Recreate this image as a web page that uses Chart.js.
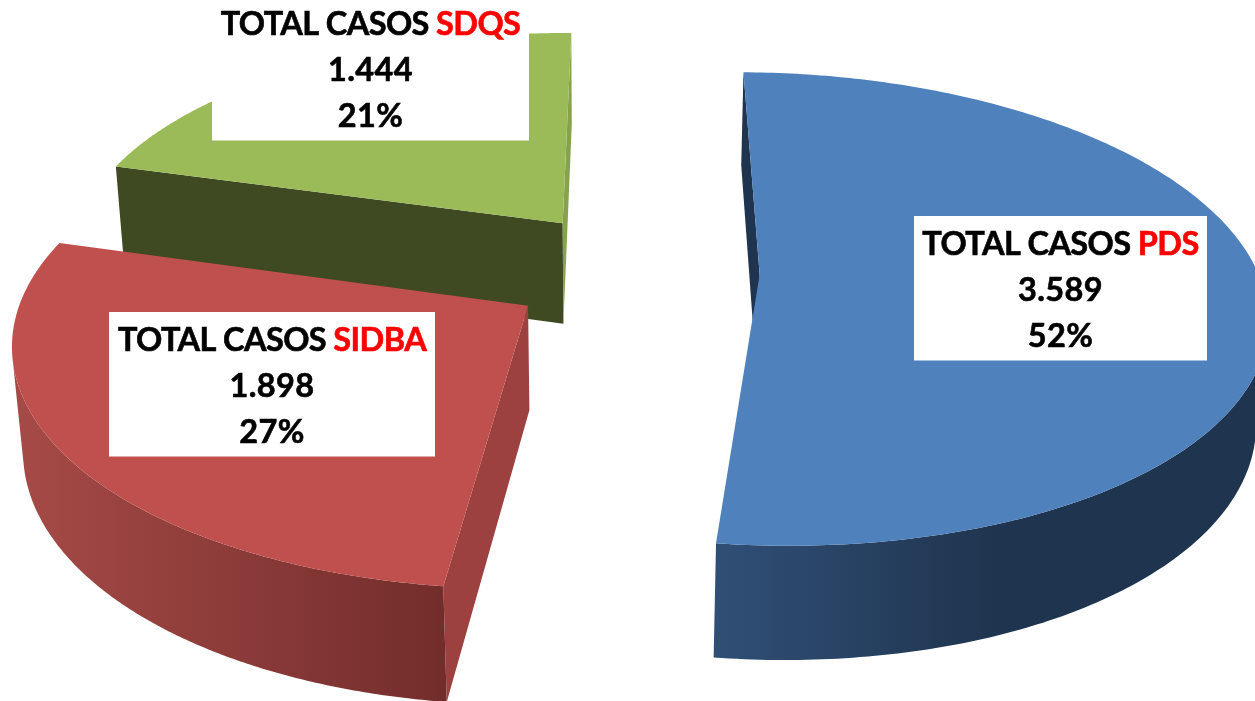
<!DOCTYPE html>
<html>
<head>
<meta charset="utf-8">
<title>Total casos</title>
<style>
  html, body { margin: 0; background: #fff; overflow: hidden; }
  canvas { display: block; }
</style>
<script src="https://cdn.jsdelivr.net/npm/chart.js@4"></script>
</head>
<body>
<canvas id="chart" width="1255" height="701"></canvas>
<script>
// data
const categories = ['PDS', 'SIDBA', 'SDQS'];
const values = [3589, 1898, 1444];

// style
const topColors = ['#4f81bd', '#c0504d', '#9bbb59'];
const startWallColors = ['#1f344e', '#9c413f', '#3f4a23'];
const endWallColors = ['#1f344e', '#9c413f', '#86a24d'];
const rimGradients = [
  [[714, '#304f76'], [1000, '#1f344e']],
  [[15, '#a64a47'], [447, '#722d2b']],
  [[100, '#86a24d'], [570, '#86a24d']]
];
const explode = [0.238249, 0.26888, 0.265146];
const pieRadius = 200;
const pieRotation = 11.4876;

// label boxes: left, top, right, bottom
const labelBoxes = [
  [914, 216, 1207, 360.5],
  [109, 312, 435, 456.5],
  [212, -4, 529, 140.5]
];
const labelFont = 'bold 32.5px Lato';

// 3x4 camera fitted to the picture: pie plane (X, Y, radius 1) plus depth Z -> pixels
const camera = [
  505.154, 8.842, 11.058, 640.92,
  -35.69, 187.913, 109.474, 270.713,
  0.027195, -0.142864, 0.018349, 1
];

function project(X, Y, Z) {
  const c = camera;
  const w = c[8] * X + c[9] * Y + c[10] * Z + c[11];
  return [(c[0] * X + c[1] * Y + c[2] * Z + c[3]) / w, (c[4] * X + c[5] * Y + c[6] * Z + c[7]) / w];
}

function polyArea(pts) {
  let s = 0;
  pts.forEach((p, i) => {
    const n = pts[(i + 1) % pts.length];
    s += p[0] * n[1] - n[0] * p[1];
  });
  return s;
}

function fillPoly(ctx, pts, style) {
  ctx.fillStyle = style;
  ctx.beginPath();
  pts.forEach(p => ctx.lineTo(p[0], p[1]));
  ctx.closePath();
  ctx.fill();
}

// the slice geometry comes from the arc elements Chart.js computed
function drawSlice(ctx, arc, i) {
  const off = arc.options.offset / arc.outerRadius;
  const mid = (arc.startAngle + arc.endAngle) / 2;
  const cx = off * Math.cos(mid);
  const cy = off * Math.sin(mid);
  const rimAt = (t, z) => project(cx + Math.cos(t), cy + Math.sin(t), z);
  const apex0 = project(cx, cy, 0);
  const apex1 = project(cx, cy, 1);
  const steps = 240;
  const angles = [];
  for (let j = 0; j <= steps; j++) angles.push(arc.startAngle + (arc.endAngle - arc.startAngle) * j / steps);

  const startWall = [apex0, rimAt(arc.startAngle, 0), rimAt(arc.startAngle, 1), apex1];
  if (polyArea(startWall) < 0) fillPoly(ctx, startWall, startWallColors[i]);
  const endWall = [apex0, rimAt(arc.endAngle, 0), rimAt(arc.endAngle, 1), apex1];
  if (polyArea(endWall) > 0) fillPoly(ctx, endWall, endWallColors[i]);

  // outer wall, only the part facing the viewer
  const stops = rimGradients[i];
  const grad = ctx.createLinearGradient(stops[0][0], 0, stops[1][0], 0);
  grad.addColorStop(0, stops[0][1]);
  grad.addColorStop(1, stops[1][1]);
  const front = angles.filter((t, j) => {
    if (j === steps) return false;
    const n = angles[j + 1];
    return polyArea([rimAt(t, 0), rimAt(n, 0), rimAt(n, 1), rimAt(t, 1)]) < 0;
  });
  if (front.length) {
    const run = front.concat(front[front.length - 1] + (arc.endAngle - arc.startAngle) / steps);
    const wall = run.map(t => rimAt(t, 0)).concat(run.slice().reverse().map(t => rimAt(t, 1)));
    fillPoly(ctx, wall, grad);
  }

  fillPoly(ctx, [apex0].concat(angles.map(t => rimAt(t, 0))), topColors[i]);
}

// heavier text, the reference font is bolder than Lato Bold
function boldText(ctx, text, x, y, color) {
  ctx.fillStyle = color;
  ctx.strokeStyle = color;
  ctx.lineWidth = 0.6;
  ctx.fillText(text, x, y);
  ctx.strokeText(text, x, y);
}

const pie3d = {
  id: 'pie3d',
  beforeDatasetsDraw(chart) {
    const arcs = chart.getDatasetMeta(0).data;
    for (let i = arcs.length - 1; i >= 0; i--) drawSlice(chart.ctx, arcs[i], i);
    return false;
  },
  afterDraw(chart) {
    const ctx = chart.ctx;
    const total = values.reduce((a, b) => a + b, 0);
    categories.forEach((name, i) => {
      const [l, t, r, b] = labelBoxes[i];
      const mid = (l + r) / 2;
      ctx.fillStyle = '#fff';
      ctx.fillRect(l, t, r - l, b - t);
      ctx.font = labelFont;
      ctx.textBaseline = 'alphabetic';
      ctx.textAlign = 'left';
      ctx.letterSpacing = '-0.6px';
      const head = 'TOTAL CASOS ';
      const w1 = ctx.measureText(head).width;
      const w2 = ctx.measureText(name).width;
      const x0 = mid - (w1 + w2) / 2;
      boldText(ctx, head, x0, t + 39, '#000');
      boldText(ctx, name, x0 + w1, t + 39, '#ff0000');
      ctx.letterSpacing = '0.4px';
      ctx.textAlign = 'center';
      boldText(ctx, values[i].toLocaleString('de-DE'), mid, t + 85, '#000');
      boldText(ctx, Math.round(values[i] / total * 100) + '%', mid, t + 131, '#000');
    });
  }
};

new Chart(document.getElementById('chart'), {
  type: 'pie',
  data: {
    labels: categories,
    datasets: [{
      data: values,
      backgroundColor: topColors,
      borderWidth: 0,
      offset: explode.map(e => e * pieRadius)
    }]
  },
  options: {
    responsive: false,
    animation: false,
    radius: pieRadius,
    rotation: pieRotation,
    plugins: {
      legend: { display: false },
      tooltip: { enabled: false }
    }
  },
  plugins: [pie3d]
});
</script>
</body>
</html>
